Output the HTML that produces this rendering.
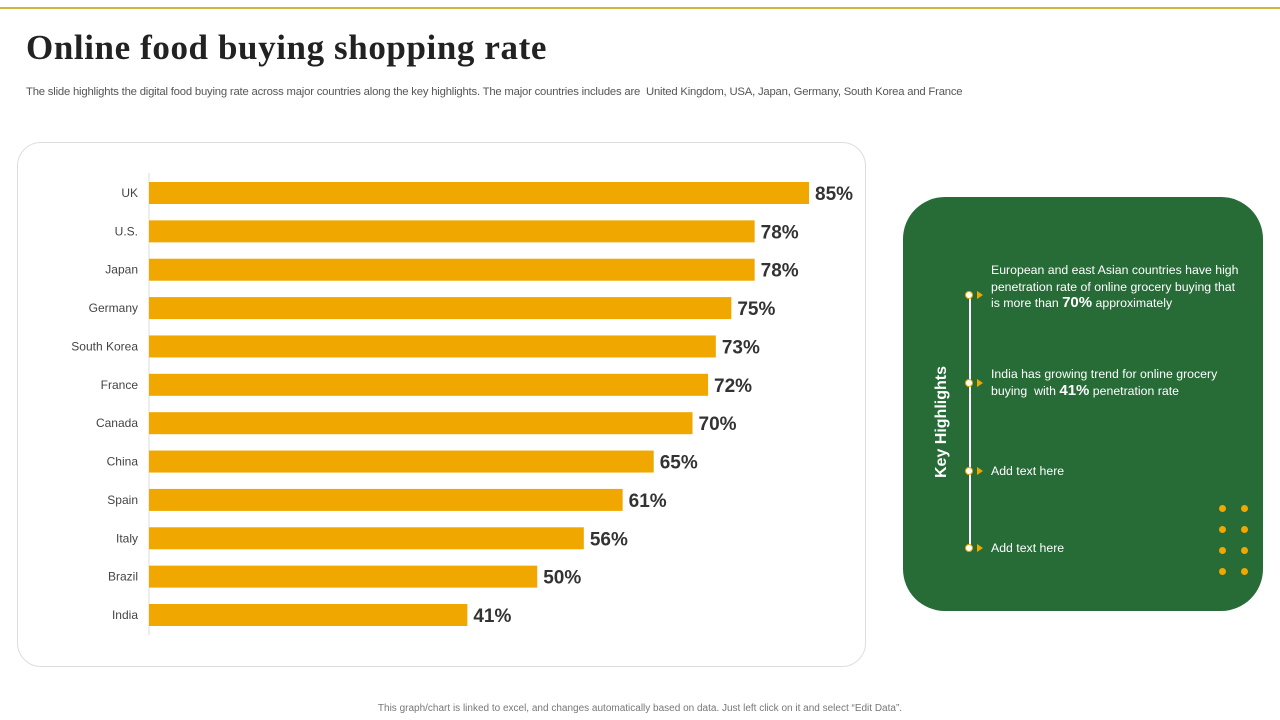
<!DOCTYPE html>
<html><head><meta charset="utf-8"><style>
body{margin:0;width:1280px;height:720px;background:#fff;position:relative;overflow:hidden;font-family:"Liberation Sans",sans-serif}
.abs{position:absolute}
</style></head><body>
<div class="abs" style="left:0;top:7px;width:1280px;height:2px;background:#d4b43c"></div>
<div class="abs" style="left:26px;top:28px;font-family:'Liberation Serif',serif;font-weight:bold;font-size:35px;color:#222;letter-spacing:0.6px;white-space:nowrap">Online food buying shopping rate</div>
<div class="abs" style="left:26px;top:86px;font-size:11.3px;color:#555;white-space:nowrap;letter-spacing:-0.2px">The slide highlights the digital food buying rate across major countries along the key highlights. The major countries includes are&nbsp; United Kingdom, USA, Japan, Germany, South Korea and France</div>
<div class="abs" style="left:17px;top:142px;width:847px;height:523px;border:1px solid #ddd;border-radius:24px"></div>
<svg class="abs" style="left:0;top:0" width="900" height="700" id="chart"></svg>
<div class="abs" style="left:903px;top:197px;width:360px;height:414px;background:#276b37;border-radius:42px"></div>
<div class="abs" style="left:942px;top:422px;transform:translate(-50%,-50%) rotate(-90deg);color:#fff;font-weight:bold;font-size:16px;white-space:nowrap">Key Highlights</div>
<div class="abs" style="left:969px;top:295px;width:1.5px;height:253px;background:#fff"></div>
<div id="hl"></div>
<div class="abs" style="left:0;width:1280px;top:703px;text-align:center;font-size:10px;color:#777">This graph/chart is linked to excel, and changes automatically based on data. Just left click on it and select “Edit Data”.</div>
<script>
const categories=["UK","U.S.","Japan","Germany","South Korea","France","Canada","China","Spain","Italy","Brazil","India"];
const values=[85,78,78,75,73,72,70,65,61,56,50,41];
const svg=document.getElementById('chart');
const NS='http://www.w3.org/2000/svg';
const x0=149,pxPer=660/85,y0=193,step=(615-193)/11,bh=22;
const xs=v=>x0+v*pxPer, ys=i=>y0+i*step;
const ax=document.createElementNS(NS,'line');


ax.setAttribute('x1',x0);ax.setAttribute('x2',x0);ax.setAttribute('y1',173);ax.setAttribute('y2',635);ax.setAttribute('stroke','#ddd');
svg.appendChild(ax);
categories.forEach((c,i)=>{
 const y=ys(i);
 const r=document.createElementNS(NS,'rect');
 
 
 r.setAttribute('x',x0);r.setAttribute('y',y-bh/2);r.setAttribute('width',xs(values[i])-x0);r.setAttribute('height',bh);r.setAttribute('fill','#f0a800');
 svg.appendChild(r);
 const t=document.createElementNS(NS,'text');
 
 
 t.setAttribute('x',138);t.setAttribute('y',y+4);t.setAttribute('text-anchor','end');t.setAttribute('font-size','12');t.setAttribute('fill','#444');t.setAttribute('font-family','Liberation Sans, sans-serif');
 t.textContent=c;svg.appendChild(t);
 const v=document.createElementNS(NS,'text');
 
 
 v.setAttribute('x',xs(values[i])+6);v.setAttribute('y',y+7);v.setAttribute('font-size','19');v.setAttribute('font-weight','bold');v.setAttribute('fill','#333');v.setAttribute('font-family','Liberation Sans, sans-serif');
 v.textContent=values[i]+'%';svg.appendChild(v);
});
const items=[
 {y:295,ty:262,html:'European and east Asian countries have high penetration rate of online grocery buying that is more than <b style="font-size:15px">70%</b> approximately'},
 {y:383,ty:366,html:'India has growing trend for online grocery buying&nbsp; with <b style="font-size:15px">41%</b> penetration rate'},
 {y:471,ty:463,html:'Add text here'},
 {y:548,ty:540,html:'Add text here'}];
const hl=document.getElementById('hl');
items.forEach((it,i)=>{
 const d=document.createElement('div');d.className='abs';
 
 
 d.style.cssText=`left:965px;top:${it.y-4}px;width:6px;height:6px;border:1.5px solid #f0a800;background:#fff;border-radius:50%`;
 hl.appendChild(d);
 const a=document.createElement('div');a.className='abs';
 
 
 a.style.cssText=`left:977px;top:${it.y-4}px;width:0;height:0;border-left:6px solid #f0a800;border-top:4px solid transparent;border-bottom:4px solid transparent`;
 hl.appendChild(a);
 const t=document.createElement('div');t.className='abs';
 
 
 t.style.cssText=`left:991px;top:${it.ty}px;width:250px;color:#fff;font-size:12.3px;line-height:16.5px`;
 t.innerHTML=it.html;hl.appendChild(t);
});
[1222,1244].forEach(x=>[508,529,550,571].forEach(y=>{
 const d=document.createElement('div');d.className='abs';
 
 
 d.style.cssText=`left:${x-3.5}px;top:${y-3.5}px;width:7px;height:7px;border-radius:50%;background:#f0a800`;
 hl.appendChild(d);
}));
</script>
</body></html>
